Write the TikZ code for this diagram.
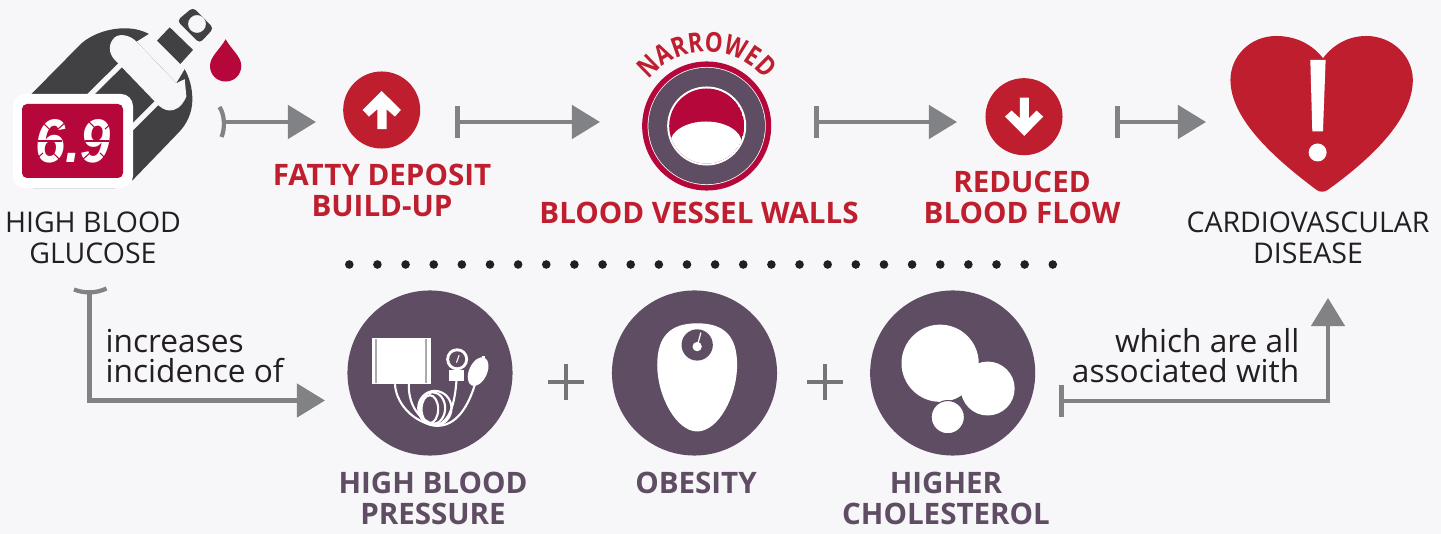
\documentclass[tikz,border=0pt]{standalone}
\usepackage{fontspec}
\setmainfont{Open Sans}
\newfontfamily\narrowfont{Open Sans}[FakeStretch=0.82]
\newfontfamily\meterfont{Liberation Sans}[FakeStretch=0.88]
\usetikzlibrary{arrows.meta, positioning, decorations.text}
\definecolor{crimson}{HTML}{B5073A}
\definecolor{alarm}{HTML}{BF1E2E}
\definecolor{plum}{HTML}{5F4D63}
\definecolor{slate}{HTML}{808285}
\definecolor{ink}{HTML}{231F20}
\definecolor{casing}{HTML}{414042}
\definecolor{paper}{HTML}{F7F6F9}

\begin{document}
\begin{tikzpicture}[x=0.01cm, y=-0.01cm, >=Stealth,
  zoomed/.style={x=0.00333cm, y=-0.00333cm},
  link/.style={draw=slate, line width=1.3pt},
  blocked/.style={link, {Bar[width=0.31cm, line width=1.3pt]}-{Triangle[length=0.28cm, width=0.33cm]}},
  openend/.style={link, -{Triangle[length=0.28cm, width=0.33cm]}},
  lip/.style={draw=slate, line width=1.2pt, fill=none},
  reddisc/.style={circle, fill=alarm, minimum size=0.77cm, inner sep=0pt},
  plumdisc/.style={circle, fill=plum, minimum size=1.65cm, inner sep=0pt},
  redlabel/.style={inner sep=0pt, align=center, text=alarm, font=\fontsize{8.4}{8.8}\selectfont\bfseries},
  plumlabel/.style={inner sep=0pt, align=center, text=plum, font=\fontsize{8.4}{8.8}\selectfont\bfseries},
  inklabel/.style={inner sep=0pt, align=center, text=ink, font=\fontsize{8.1}{8.8}\selectfont},
  notelabel/.style={inner sep=0pt, text=ink, font=\fontsize{9}{8.6}\selectfont},
  hose/.style={draw=white, line width=0.6pt, fill=none},
  segcut/.style={draw=crimson, line width=0.3pt},
  plusbar/.style={draw=slate!90!black, line width=0.9pt}]

\fill[paper] (0,0) rectangle (1441,534);
\useasboundingbox (0,0) rectangle (1441,534);

% --- Glucose meter (top left) ---
\begin{scope}[zoomed]
  \fill[casing] (95,282) -- (245,130) .. controls (280,100) and (330,85) .. (375,85) .. controls (400,85) and (425,90) .. (447,102)
    -- (410,125) -- (530,250) -- (555,208) .. controls (570,235) and (578,265) .. (578,300)
    .. controls (578,340) and (560,375) .. (535,400) -- (400,540) .. controls (385,555) and (365,565) .. (345,565) -- (100,565) -- cycle;
  \fill[paper] (345,180) .. controls (325,160) and (325,130) .. (345,112) .. controls (360,100) and (390,105) .. (410,125)
    -- (530,250) -- (555,238) -- (560,290) .. controls (545,325) and (525,332) .. (510,332) .. controls (495,332) and (480,322) .. (470,310) -- cycle;
  \draw[paper, line width=1.5pt] (362,195) -- (268,288);
  \draw[paper, line width=1.5pt] (472,308) -- (395,385);
  \fill[casing] (510,82) -- (580,150) -- (542,192) -- (472,122) -- cycle;
  \fill[casing, even odd rule, rounded corners=0.04cm] (580,22) -- (642,85) -- (600,130) -- (532,62) -- cycle (592,72) circle (27);
  \fill[crimson] (678,118) .. controls (660,150) and (631,170) .. (631,198) .. controls (631,225) and (652,245) .. (678,245)
    .. controls (704,245) and (725,225) .. (725,198) .. controls (725,170) and (696,150) .. (678,118) -- cycle;
\end{scope}
\fill[white, rounded corners=0.12cm] (13,94) rectangle (133,188);
\fill[crimson, rounded corners=0.05cm] (22,104) rectangle (123,178);
\node[inner sep=0pt, text=white, font=\fontsize{17.5}{17.5}\meterfont\bfseries\itshape] (reading) at (73,141) {6.9};
% chop the digits into segments
\foreach \dx in {0,47} {
  \draw[segcut] (38+\dx,141) -- (62+\dx,141);
  \draw[segcut] (42+\dx,122) -- (49+\dx,129);
  \draw[segcut] (66+\dx,122) -- (58+\dx,129);
  \draw[segcut] (35+\dx,160) -- (43+\dx,153);
  \draw[segcut] (60+\dx,160) -- (53+\dx,153);
}

\node[inklabel] (glucose) at (93,238) {HIGH BLOOD\\GLUCOSE};

% --- Top row ---
\coordinate (meterout) at (226,122);
\coordinate (fattyin) at (316,122);
\coordinate (fattyout) at (455,122);
\coordinate (vesselin) at (600,122);
\coordinate (vesselout) at (814,122);
\coordinate (reducedin) at (957,122);
\coordinate (reducedout) at (1115,122);
\coordinate (heartin) at (1206,122);
\draw[lip] (219.5,107) .. controls (225,115) and (225,129) .. (221.5,137);
\draw[openend] (meterout) -- (fattyin);
\draw[blocked] (fattyout) -- (vesselin);
\draw[blocked] (vesselout) -- (reducedin);
\draw[blocked] (reducedout) -- (heartin);

\node[reddisc] (fatty) at (381.7,110) {};
\begin{scope}[shift={(330,65)}, zoomed]
  \fill[white] (155,78) -- (213,135) -- (195,155) -- (170,133) -- (170,193) -- (142,193) -- (142,133) -- (117,155) -- (98,135) -- cycle;
\end{scope}
\node[redlabel] (fattytext) at (382,190) {FATTY DEPOSIT\\BUILD-UP};

% vessel
\node[circle, fill=crimson, minimum size=1.29cm, inner sep=0pt] (vessel) at (706.7,126) {};
\node[circle, fill=white, minimum size=1.18cm, inner sep=0pt] (vesselring) at (706.7,126) {};
\node[circle, fill=plum, minimum size=1.165cm, inner sep=0pt] (vesselwall) at (706.7,126) {};
\node[circle, fill=white, minimum size=0.79cm, inner sep=0pt] (vesselgap) at (706.7,126) {};
\begin{scope}
  \clip (706.7,126) circle (37.5);
  \fill[crimson] (706.7,126) circle (37.5);
  \fill[white] (706,143.5) ellipse (36 and 22);
\end{scope}
\path[decorate, decoration={text along path, text align=center,
    text={|\fontsize{7.8}{7.8}\narrowfont\bfseries\color{alarm}|NARROWED}}]
  (653.5,74.6) arc[start angle=136, end angle=44, radius=0.74cm];
\node[redlabel] (walls) at (699,213) {BLOOD VESSEL WALLS};

\node[reddisc] (reduced) at (1024,116.7) {};
\begin{scope}[shift={(970,65)}, zoomed]
  \fill[white] (163,213) -- (220,155) -- (200,137) -- (177,160) -- (177,98) -- (150,98) -- (150,160) -- (125,137) -- (105,155) -- cycle;
\end{scope}
\node[redlabel] (flow) at (1022,197) {REDUCED\\BLOOD FLOW};

% heart
\begin{scope}[shift={(1100,30)}, zoomed]
  \fill[alarm] (670,85) .. controls (640,45) and (590,18) .. (530,18) .. controls (450,18) and (392,80) .. (392,150)
    .. controls (392,270) and (530,390) .. (650,480) .. controls (660,488) and (675,488) .. (685,480)
    .. controls (810,390) and (940,270) .. (940,150) .. controls (940,80) and (880,18) .. (800,18)
    .. controls (745,18) and (700,45) .. (670,85) -- cycle;
  \fill[white] (632,90) -- (678,90) -- (670,305) -- (638,305) -- cycle;
  \fill[white] (654,368) circle (27);
\end{scope}
\node[inklabel] (disease) at (1308,238) {CARDIOVASCULAR\\DISEASE};

% --- Dotted divider ---
\foreach \i in {0,...,25} {
  \fill[ink] (349.3+\i*28.14,264.5) circle (4.3);
}

% --- Bottom row ---
\node[plumdisc] (pressure) at (430,373) {};
\begin{scope}[shift={(340,320)}, zoomed]
  \fill[white] (97,53) rectangle (272,193);
  \fill[plum!50!white] (105,58) rectangle (110,188);
  \fill[plum!50!white] (256,58) rectangle (261,188);
  \draw[hose] (165,193) .. controls (170,260) and (230,312) .. (292,318);
  \draw[hose] (207,193) .. controls (205,240) and (225,295) .. (285,315);
  \draw[hose] (285,265) ellipse (50 and 52);
  \draw[hose] (278,265) ellipse (38 and 48);
  \draw[hose] (270,268) ellipse (25 and 42);
  \draw[hose] (350,182) .. controls (345,250) and (330,305) .. (292,316);
  \draw[hose] (405,195) .. controls (385,260) and (350,318) .. (292,318);
  \fill[white] (328,150) rectangle (372,182);
  \fill[white] (352,118) circle (33);
  \fill[plum] (352,118) circle (24);
  \draw[white, line width=0.3pt] (350,128) -- (358,106);
  \fill[white, rotate around={-25:(415,155)}] (415,155) ellipse (27 and 46);
  \fill[white] (427,108) rectangle (437,120);
\end{scope}
\node[plumlabel] (pressuretext) at (433,498) {HIGH BLOOD\\PRESSURE};

\node[plumdisc] (obesity) at (694.5,373) {};
\begin{scope}[shift={(600,310)}, zoomed]
  \fill[white] (292,40) .. controls (210,40) and (172,80) .. (172,165) .. controls (172,260) and (230,365) .. (292,365)
    .. controls (355,365) and (412,260) .. (412,165) .. controls (412,80) and (375,40) .. (292,40) -- cycle;
  \fill[plum] (292,105) circle (47);
  \fill[white] (292,110) circle (14);
  \draw[white, line width=0.35pt] (292,110) -- (303,68);
\end{scope}
\node[plumlabel] (obesitytext) at (696,483) {OBESITY};

\node[plumdisc] (cholesterol) at (952.7,373) {};
\begin{scope}[shift={(600,310)}, zoomed]
  \fill[white] (1022,160) circle (116);
  \fill[white] (1165,236) circle (81);
  \filldraw[white, draw=plum, line width=0.3pt] (1045,322) circle (50);
\end{scope}
\node[plumlabel] (cholesteroltext) at (946,498) {HIGHER\\CHOLESTEROL};

\draw[plusbar] (548,382) -- (584,382) (566,364) -- (566,400);
\draw[plusbar] (807,382) -- (843,382) (825,364) -- (825,400);

% connectors of the bottom row
\coordinate (glucoseout) at (89.5,291);
\coordinate (pressurein) at (325,400.5);
\coordinate (cholesterolout) at (1059,401);
\coordinate (diseasein) at (1328,298);
\draw[lip] (74,289.5) .. controls (84,293.5) and (96,293.5) .. (106.5,288.5);
\draw[openend] (glucoseout) |- (pressurein);
\draw[blocked] (cholesterolout) -| (diseasein);

\node[notelabel, align=left, anchor=west] (incidence) at (105,356) {increases\\incidence of};
\node[notelabel, align=right, anchor=east] (associated) at (1300,356) {which are all\\associated with};

\end{tikzpicture}
\end{document}
